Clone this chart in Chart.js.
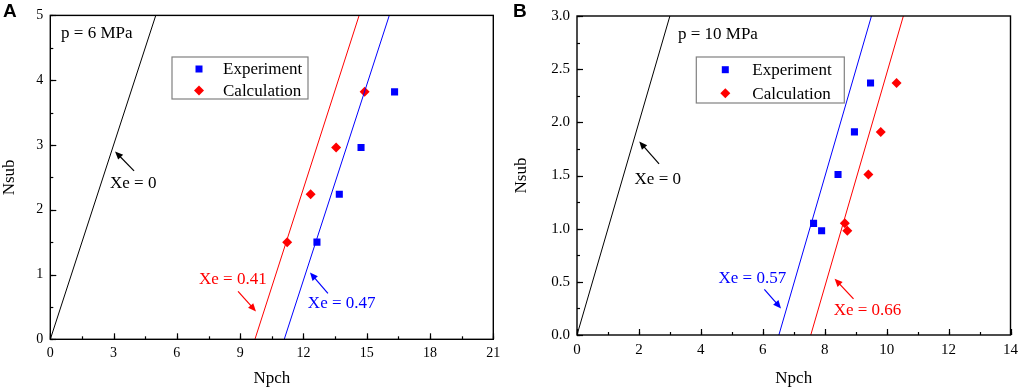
<!DOCTYPE html>
<html>
<head>
<meta charset="utf-8">
<script src="https://cdn.jsdelivr.net/npm/chart.js@4/dist/chart.umd.min.js"></script>
<style>
  html, body { margin: 0; padding: 0; background: #fff; }
  .panel { position: absolute; top: 0; width: 512px; height: 391px; }
  #panelA { left: 0; }
  #panelB { left: 512px; }
  .tag { position: absolute; top: 0px; font: bold 19px "Liberation Sans", Arial, sans-serif; }
</style>
</head>
<body>
<div class="panel" id="panelA"><canvas id="chartA" width="512" height="391"></canvas><div class="tag" style="left:3px">A</div></div>
<div class="panel" id="panelB"><canvas id="chartB" width="512" height="391"></canvas><div class="tag" style="left:1px">B</div></div>
<script>
// ---- panel A data (p = 6 MPa) ----
const expA_x = [12.64, 13.70, 14.73, 16.32];
const expA_y = [1.50, 2.24, 2.96, 3.82];
const calcA_x = [11.23, 12.34, 13.55, 14.90];
const calcA_y = [1.50, 2.24, 2.96, 3.82];
const lineA_xe0_x = [0, 5.0];
const lineA_xe041_x = [9.70, 14.64];
const lineA_xe047_x = [11.09, 16.07];
const lineA_y = [0, 5];

// ---- panel B data (p = 10 MPa) ----
const expB_x = [7.64, 7.90, 8.43, 8.96, 9.48];
const expB_y = [1.05, 0.98, 1.51, 1.91, 2.37];
const calcB_x = [8.65, 8.73, 9.41, 9.81, 10.32];
const calcB_y = [1.05, 0.98, 1.51, 1.91, 2.37];
const lineB_xe0_x = [0, 3.0];
const lineB_xe057_x = [6.52, 9.51];
const lineB_xe066_x = [7.55, 10.54];
const lineB_y = [0, 3];

// text notes and arrows, in data units [x, y]
const notesA = [
  { text: "p = 6 MPa", at: [0.51, 4.72], color: "#000" },
  { text: "Xe = 0", at: [2.83, 2.40], color: "#000", arrow: [[3.97, 2.60], [3.07, 2.90]] },
  { text: "Xe = 0.41", at: [7.05, 0.92], color: "#ff0000", arrow: [[8.90, 0.74], [9.75, 0.43]] },
  { text: "Xe = 0.47", at: [12.21, 0.55], color: "#0000ff", arrow: [[13.16, 0.71], [12.31, 1.03]] }
];
const notesB = [
  { text: "p = 10 MPa", at: [3.26, 2.83], color: "#000" },
  { text: "Xe = 0", at: [1.86, 1.46], color: "#000", arrow: [[2.65, 1.61], [2.01, 1.82]] },
  { text: "Xe = 0.57", at: [4.57, 0.53], color: "#0000ff", arrow: [[6.05, 0.43], [6.59, 0.25]] },
  { text: "Xe = 0.66", at: [8.29, 0.23], color: "#ff0000", arrow: [[8.93, 0.34], [8.32, 0.53]] }
];

const SERIF = "'Liberation Serif', 'Times New Roman', serif";

function pts(xs, ys) {
  return xs.map((x, i) => ({ x: x, y: ys[i] }));
}

function lineSet(label, xs, ys, color) {
  return { label: label, data: pts(xs, ys), showLine: true, borderColor: color, borderWidth: 1,
           pointRadius: 0, pointHoverRadius: 0, fill: false, legendless: true };
}

// frame, inward ticks, notes and legend
const decorPlugin = {
  id: "decor",
  afterDatasetsDraw(chart, args, opts) {
    const ctx = chart.ctx;
    const a = chart.chartArea;
    const xs = chart.scales.x, ys = chart.scales.y;
    ctx.save();
    // inward ticks
    ctx.strokeStyle = "#000";
    ctx.lineWidth = 1.2;
    const drawTicks = (scale, step, len, horiz) => {
      for (let v = scale.min; v <= scale.max + 1e-9; v += step) {
        const p = Math.round(scale.getPixelForValue(v)) + 0.5;
        ctx.beginPath();
        if (horiz) { ctx.moveTo(p, a.bottom); ctx.lineTo(p, a.bottom - len); }
        else { ctx.moveTo(a.left, p); ctx.lineTo(a.left + len, p); }
        ctx.stroke();
      }
    };
    drawTicks(xs, opts.xMinor, 3, true);
    drawTicks(xs, opts.xMajor, 6, true);
    drawTicks(ys, opts.yMinor, 3, false);
    drawTicks(ys, opts.yMajor, 6, false);
    // frame
    ctx.lineWidth = 1.4;
    ctx.strokeRect(a.left, a.top, a.right - a.left, a.bottom - a.top);

    // notes
    ctx.font = "17px " + SERIF;
    ctx.textBaseline = "middle";
    ctx.textAlign = "left";
    opts.notes.forEach(n => {
      ctx.fillStyle = n.color;
      ctx.fillText(n.text, xs.getPixelForValue(n.at[0]), ys.getPixelForValue(n.at[1]));
      if (n.arrow) {
        const x0 = xs.getPixelForValue(n.arrow[0][0]), y0 = ys.getPixelForValue(n.arrow[0][1]);
        const x1 = xs.getPixelForValue(n.arrow[1][0]), y1 = ys.getPixelForValue(n.arrow[1][1]);
        const ang = Math.atan2(y1 - y0, x1 - x0);
        ctx.strokeStyle = n.color;
        ctx.fillStyle = n.color;
        ctx.lineWidth = 1.2;
        ctx.beginPath();
        ctx.moveTo(x0, y0);
        ctx.lineTo(x1 - 5 * Math.cos(ang), y1 - 5 * Math.sin(ang));
        ctx.stroke();
        ctx.beginPath();
        ctx.moveTo(x1, y1);
        ctx.lineTo(x1 - 8 * Math.cos(ang) + 3.5 * Math.sin(ang), y1 - 8 * Math.sin(ang) - 3.5 * Math.cos(ang));
        ctx.lineTo(x1 - 8 * Math.cos(ang) - 3.5 * Math.sin(ang), y1 - 8 * Math.sin(ang) + 3.5 * Math.cos(ang));
        ctx.closePath();
        ctx.fill();
      }
    });

    // legend
    const lg = opts.legend;
    const bx = a.left + lg.dx, by = a.top + lg.dy;
    ctx.fillStyle = "#fff";
    ctx.fillRect(bx, by, lg.w, lg.h);
    ctx.strokeStyle = "#808080";
    ctx.lineWidth = 1.2;
    ctx.strokeRect(bx, by, lg.w, lg.h);
    const items = chart.data.datasets.filter(d => !d.legendless);
    items.forEach((d, i) => {
      const cy = by + lg.firstY + i * lg.rowH;
      const cx = bx + lg.symX;
      ctx.fillStyle = d.backgroundColor;
      ctx.beginPath();
      if (d.pointStyle === "rect") {
        ctx.rect(cx - 3.5, cy - 3.5, 7, 7);
      } else {
        ctx.moveTo(cx, cy - 5); ctx.lineTo(cx + 5, cy); ctx.lineTo(cx, cy + 5); ctx.lineTo(cx - 5, cy);
        ctx.closePath();
      }
      ctx.fill();
      ctx.fillStyle = "#000";
      ctx.font = "17px " + SERIF;
      ctx.textBaseline = "middle";
      ctx.fillText(d.label, bx + lg.textX, cy + 1);
    });
    ctx.restore();
  }
};

function makeChart(id, p) {
  const tickFont = { family: SERIF, size: p.tickSize };
  return new Chart(document.getElementById(id), {
    type: "scatter",
    data: {
      datasets: [
        lineSet("Xe = 0", p.l0x, p.ly, "#000000"),
        lineSet(p.l1label, p.l1x, p.ly, p.l1color),
        lineSet(p.l2label, p.l2x, p.ly, p.l2color),
        { label: "Experiment", data: pts(p.ex, p.ey), pointStyle: "rect", pointRadius: 5,
          backgroundColor: "#0000ff", borderWidth: 0 },
        { label: "Calculation", data: pts(p.cx, p.cy), pointStyle: "rectRot", pointRadius: 5,
          backgroundColor: "#ff0000", borderWidth: 0 }
      ]
    },
    options: {
      responsive: false,
      animation: false,
      events: [],
      layout: { padding: p.pad },
      plugins: {
        legend: { display: false },
        tooltip: { enabled: false },
        decor: p.decor
      },
      scales: {
        x: {
          type: "linear", min: p.xmin, max: p.xmax,
          ticks: { stepSize: p.xstep, color: "#000", font: tickFont, padding: 6, maxRotation: 0 },
          grid: { display: false, drawTicks: false, tickLength: 0 },
          border: { display: false },
          title: { display: true, text: "Npch", color: "#000", font: { family: SERIF, size: 17, lineHeight: 1.2 },
                   padding: { top: 0, bottom: 2 } },
          afterFit: s => { s.height = p.xh; }
        },
        y: {
          type: "linear", min: p.ymin, max: p.ymax,
          ticks: { stepSize: p.ystep, color: "#000", font: tickFont, padding: 7,
                   callback: p.yfmt },
          grid: { display: false, drawTicks: false, tickLength: 0 },
          border: { display: false },
          title: { display: true, text: "Nsub", color: "#000", font: { family: SERIF, size: 17, lineHeight: 1 },
                   padding: { top: 1, bottom: 0 } },
          afterFit: s => { s.width = p.yw; }
        }
      }
    },
    plugins: [decorPlugin]
  });
}

makeChart("chartA", {
  l0x: lineA_xe0_x, l1x: lineA_xe041_x, l2x: lineA_xe047_x, ly: lineA_y,
  l1label: "Xe = 0.41", l1color: "#ff0000", l2label: "Xe = 0.47", l2color: "#0000ff",
  ex: expA_x, ey: expA_y, cx: calcA_x, cy: calcA_y,
  xmin: 0, xmax: 21, xstep: 3, ymin: 0, ymax: 5, ystep: 1,
  yfmt: v => String(v), tickSize: 14,
  pad: { left: 0, right: 18.7, top: 11.7, bottom: 0 }, xh: 51.7, yw: 50.3,
  decor: {
    xMajor: 3, xMinor: 1.5, yMajor: 1, yMinor: 0.5, notes: notesA,
    legend: { dx: 121.7, dy: 41.6, w: 136, h: 42, symX: 27, textX: 51, firstY: 12, rowH: 21.5 }
  }
});

makeChart("chartB", {
  l0x: lineB_xe0_x, l1x: lineB_xe057_x, l2x: lineB_xe066_x, ly: lineB_y,
  l1label: "Xe = 0.57", l1color: "#0000ff", l2label: "Xe = 0.66", l2color: "#ff0000",
  ex: expB_x, ey: expB_y, cx: calcB_x, cy: calcB_y,
  xmin: 0, xmax: 14, xstep: 2, ymin: 0, ymax: 3, ystep: 0.5,
  yfmt: v => v.toFixed(1), tickSize: 15,
  pad: { left: 0, right: 9.7, top: 12, bottom: 0 }, xh: 56, yw: 65,
  decor: {
    xMajor: 2, xMinor: 1, yMajor: 0.5, yMinor: 0.25, notes: notesB,
    legend: { dx: 119.3, dy: 41, w: 148, h: 46, symX: 29, textX: 56, firstY: 12.7, rowH: 23.6 }
  }
});
</script>
</body>
</html>
